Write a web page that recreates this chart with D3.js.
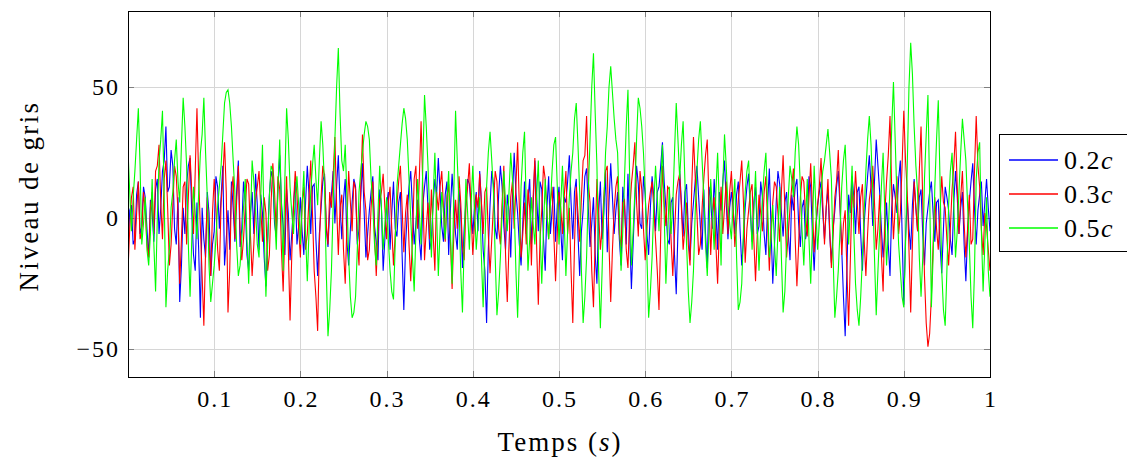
<!DOCTYPE html>
<html>
<head>
<meta charset="utf-8">
<script src="https://cdn.jsdelivr.net/npm/d3@7"></script>
<style>
  body { margin: 0; background: #fff; }
  svg text { font-family: "Liberation Serif", "DejaVu Serif", serif; fill: #000; }
</style>
</head>
<body>
<div id="chart"></div>
<script>
// sampling step of the signals (s)
const dt = 0.002;

const xTicks = [0.1, 0.2, 0.3, 0.4, 0.5, 0.6, 0.7, 0.8, 0.9, 1];
const yTicks = [-50, 0, 50];

const seriesNames = ["0.2", "0.3", "0.5"];
const seriesColors = ["#0000ff", "#ff0000", "#00ff00"];

// 0.2c  (one row = 0.1 s)
const blue = [
  -12,3, 5,-10, -8,9, 14,-6, -3,12, 8,-4, -15,7, 2,-9, 11,15, -6,4, 18,22, 35,10, 12,26, 20,-4, -10,8, -32,-18, 4,-6, 13,20, 23,2, -14,-20, 6,-12, -38,4, -8,-15, 10,2, -22,-10,
  -5,16, 12,-4, 8,20, -18,-8, 3,-12, 14,4, -9,10, 22,-11, -4,14, 6,-14, -20,2, 10,-6, 17,5, -12,9, 2,-15, -26,-8, 9,18, 15,-2, -7,12, 24,6, -3,-14, 11,2, -16,-6, 5,14, -10,-3,
  8,-5, -14,6, 20,9, -6,12, 13,-8, -22,-6, 4,14, 17,-4, -11,3, 9,18, -2,12, 24,5, -8,7, 15,-9, -18,-4, 6,15, 12,-10, -4,8, 21,2, -15,-6, 3,10, 16,-3, -9,-16, 11,4, -20,-8,
  5,10, -12,2, 14,-4, -7,6, 10,-14, -35,-10, 2,12, 18,4, -10,-2, 7,-8, -16,5, 12,18, 4,-12, -8,6, 15,9, 23,10, -3,-9, 9,14, -14,3, 17,6, -6,-12, 11,2, -19,-4, 6,15, 13,4,
  -6,4, 10,-5, 18,6, -12,-20, -40,-12, 5,18, 13,-4, -8,9, 20,12, -3,-12, 9,3, -15,8, 25,10, 2,-10, -18,-2, 14,-6, 7,15, -10,5, 22,9, -5,14, 11,-8, -20,4, 16,-6, 3,12, -9,5,
  12,-4, -16,8, 6,14, 24,6, -8,10, 15,-6, -22,-5, 3,16, 19,4, -11,-2, 8,-14, -25,2, 14,-8, 2,18, -13,6, 21,8, -6,3, 10,-8, -18,12, 5,-10, 17,-6, -27,-10, 7,20, 13,-2, -4,16,
  9,-6, -14,4, 16,8, -5,10, 12,20, 29,14, 4,-8, -10,6, 8,-14, -29,-5, 18,6, -7,10, 13,-4, -16,-2, 6,14, 20,8, -3,-12, 11,-6, -19,12, 7,-4, 15,3, -12,10, 3,14, 22,6, -8,4,
  10,4, -6,9, 14,-4, -18,-8, 4,12, 17,2, -9,6, 12,-6, -3,14, 8,-6, -14,5, 19,-4, -25,-10, 6,18, 13,2, -7,6, 10,-6, -16,9, 3,12, 15,-2, -11,4, 7,-8, -4,16, 12,-6, -20,-4,
  5,10, 14,2, -8,4, 11,-6, -17,-4, 3,12, 18,4, -12,-30, -45,-20, 9,2, 16,8, -6,10, 12,-6, -20,-2, 7,16, 24,12, -3,14, 30,20, 10,-4, -15,-6, 6,-10, -22,4, 13,8, 2,15, 22,-5,
  -33,-8, 8,-4, -12,5, 15,4, -5,8, 11,-6, -18,-2, 4,10, 14,2, -9,6, 7,-10, -21,-4, 12,8, 3,-8, -14,6, 18,8, -6,4, 10,-10, -24,-6, 6,14, 21,4, -10,3, 9,14, -3,6, 15,4,
  -5
];

// 0.3c
const red = [
  -20,-4, 8,12, -12,2, 14,-8, -5,10, 3,-10, -15,4, 10,-6, 18,20, 28,6, -8,15, 22,4, -18,-10, 5,20, 16,2, -25,-8, 12,14, -10,8, 24,10, -6,18, 42,15, -4,-22, -41,-12, 8,-10, -22,2,
  15,4, -12,-20, 6,15, 29,10, -36,-20, 10,16, -8,6, 20,-4, -16,-8, 4,15, 13,-6, -22,-10, 7,12, 18,4, -9,8, 2,-20, -14,6, 21,10, -6,16, 11,-12, -28,-4, 16,-12, -39,-14, 5,18, 9,-4,
  -15,6, 12,-12, -6,8, 22,2, -20,-30, -43,-10, 8,20, 16,-2, -10,10, 4,16, 31,5, -14,4, 9,-12, -25,-2, 18,6, -5,14, 11,-8, -18,12, 32,10, 3,-16, -12,4, 14,-6, -22,-5, 7,10, 17,4,
  -8,6, 12,-4, -18,-6, 5,14, 20,4, -13,2, 9,-10, -24,-8, 15,20, -4,16, 37,12, -16,-4, 6,-8, 11,-6, -20,10, 3,12, 18,4, -9,8, 13,-8, -27,-6, 7,-4, 16,6, -11,-16, 4,12, 21,2,
  -14,-2, 9,4, 17,6, -6,10, 12,-6, -21,-8, 5,18, 14,-4, -10,6, 20,-14, -32,-10, 8,14, -4,12, 29,4, -15,-6, 6,-10, 11,4, -18,8, 23,-10, -33,-8, 3,20, 15,2, -8,6, 12,-6, -24,-6,
  10,4, -6,8, 18,-6, 4,-20, -40,-10, 12,2, -9,8, 22,24, 39,14, 6,-20, -34,-8, 15,2, -12,-4, 8,18, 20,-10, -32,-12, 3,12, 16,-6, -11,6, 7,-12, -19,2, 13,20, 29,6, -7,18, 11,-4,
  -16,-4, 5,10, 14,4, -8,-20, -35,-6, 20,6, -3,12, 11,-8, -22,-6, 9,14, 17,4, -12,-4, 6,-10, -18,12, 31,16, 2,-14, -10,4, 15,24, 30,6, -14,2, 8,-10, -25,-4, 12,-6, 4,14, -6,10,
  18,4, -11,-2, 7,14, 22,6, -17,-4, 3,10, 13,-8, -24,-6, 9,2, -5,10, 16,-2, -20,-4, 6,14, 12,2, -9,10, 24,4, -15,-6, 4,12, 19,-8, -26,-10, 8,16, 14,2, -7,8, 21,4, -13,-2,
  5,12, 23,6, -10,4, 15,-4, -19,-6, 8,14, 26,6, -14,-2, 3,-20, -41,-16, 11,4, 18,6, -6,8, 13,-8, -22,-6, 7,12, 20,6, -12,-4, 9,-14, -28,2, 14,24, 39,10, -8,4, 16,-6, 2,20,
  41,22, 10,-12, -36,-10, 14,4, -5,18, 35,6, -22,-40, -49,-44, -30,-10, 8,-4, -12,2, 16,6, 4,-8, -18,-4, 11,20, 33,12, -6,8, 18,-2, -15,-4, 9,-10, -8,18, 39,20, 12,-4, -14,2, -3,-12,
  -20
];

// 0.5c
const green = [
  26,10, -5,8, 18,30, 42,20, -10,-2, 8,-12, -18,-6, 15,-10, -28,0, 22,30, 41,8, -34,-20, -12,4, 10,22, 30,14, 6,28, 46,35, 20,-10, -30,-8, 12,2, -8,10, 25,32, 46,25, 8,-18, -32,-25,
  -18,-8, 5,12, 20,32, 44,48, 49,44, 35,22, 10,-10, -22,-18, -8,4, 15,-8, -25,-2, 22,14, 3,-10, -15,8, 28,-5, -30,-10, 8,20, 18,2, -12,12, 30,5, -20,15, 42,30, 12,2, -6,8, 16,5,
  -10,5, 18,-6, -24,-5, 10,20, 28,15, 5,22, 37,28, 12,-20, -45,-35, -20,5, 30,50, 65,40, 22,18, 28,8, -15,-30, -38,-36, -30,-12, 10,18, 25,32, 37,35, 30,15, 5,-10, -18,2, 20,4, -12,-2,
  8,-8, -20,-28, -31,-10, 12,20, 28,36, 42,38, 30,15, 0,-15, -28,-5, 15,2, -10,20, 47,35, 20,2, -15,8, 25,2, -22,-5, 10,2, -8,6, 18,-5, -25,10, 41,22, 5,-20, -36,-10, 15,2, -12,5,
  20,4, -12,-2, 8,-15, -34,-10, 12,25, 33,22, 10,-15, -37,-28, -15,2, 18,6, -5,10, 25,15, 5,-20, -38,-15, 12,25, 33,5, -20,-8, 8,-2, -10,8, 22,-5, -25,-5, 15,2, -8,5, 18,28, 31,12,
  -10,5, 20,0, -22,-5, 8,18, 25,38, 44,28, 10,-20, -40,-30, -15,10, 30,50, 63,40, 20,-20, -42,-20, 5,25, 35,50, 58,48, 38,30, 25,2, -20,-5, 15,35, 49,15, -18,-5, 10,30, 46,42, 35,25,
  10,-15, -38,-28, -15,5, 20,8, -5,12, 28,2, -25,-8, 12,-6, 5,25, 44,30, 15,28, 37,15, -10,-28, -40,-32, -20,2, 18,30, 37,22, 8,-10, -22,-5, 15,2, -12,10, 25,5, -18,12, 32,20, 5,-2,
  -8,5, 15,-15, -35,-32, -25,-5, 10,18, 22,5, -12,2, 18,-2, -20,-5, 8,18, 25,5, -15,-8, 5,-10, -22,-5, 12,-15, -36,-28, -10,8, 20,15, 8,25, 35,28, 12,-5, -18,-2, 15,-8, -25,-5, 20,4,
  -12,-2, 10,18, 22,28, 34,25, 15,-15, -38,-30, -20,-5, 12,22, 28,10, -10,5, 20,-5, -25,-35, -41,-30, -15,2, 18,30, 39,28, 10,-15, -37,-20, -5,12, 25,2, -18,-5, 12,35, 52,30, 8,-10, -20,-30,
  -34,-10, 20,50, 67,55, 35,20, 10,-15, -30,-15, 15,32, 47,10, -34,-15, 12,30, 45,15, -20,-35, -41,-20, 5,18, 25,5, -15,-5, 10,25, 38,30, 22,5, -10,-30, -42,-20, 15,25, 29,-5, -28,-10, 8,-20,
  -30
];

const allSeries = [blue, red, green];

const W = 1127, H = 464;
const margin = { top: 11, left: 128 };
const width = 862;
const height = 366;

const svg = d3.select('#chart').append('svg')
    .attr('width', W)
    .attr('height', H);

const g = svg.append('g')
    .attr('transform', `translate(${margin.left},${margin.top})`);

const x = d3.scaleLinear().domain([0, 1]).range([0, width]);
const y = d3.scaleLinear().domain([-60.6, 79.1]).range([height, 0]);

svg.append('clipPath').attr('id', 'clip')
  .append('rect').attr('width', width).attr('height', height);

// grid
g.append('g')
  .selectAll('line')
  .data(xTicks)
  .enter().append('line')
    .attr('x1', d => Math.round(x(d)) + 0.5).attr('x2', d => Math.round(x(d)) + 0.5)
    .attr('y1', 0).attr('y2', height)
    .attr('stroke', '#d6d6d6');

g.append('g')
  .selectAll('line')
  .data(yTicks)
  .enter().append('line')
    .attr('y1', d => Math.round(y(d)) + 0.5).attr('y2', d => Math.round(y(d)) + 0.5)
    .attr('x1', 0).attr('x2', width)
    .attr('stroke', '#d6d6d6');

// inward tick marks on all four sides
const tk = 6;
const ticks = g.append('g').attr('stroke', '#7f7f7f');
xTicks.forEach(d => {
    const px = Math.round(x(d)) + 0.5;
    ticks.append('line').attr('x1', px).attr('x2', px).attr('y1', height).attr('y2', height - tk);
    ticks.append('line').attr('x1', px).attr('x2', px).attr('y1', 0).attr('y2', tk);
});
yTicks.forEach(d => {
    const py = Math.round(y(d)) + 0.5;
    ticks.append('line').attr('y1', py).attr('y2', py).attr('x1', 0).attr('x2', tk);
    ticks.append('line').attr('y1', py).attr('y2', py).attr('x1', width).attr('x2', width - tk);
});

// signals
const line = d3.line()
    .x((d, i) => x(i * dt))
    .y(d => y(d));

g.append('g').attr('clip-path', 'url(#clip)')
  .selectAll('path')
  .data(allSeries)
  .enter().append('path')
    .attr('d', d => line(d))
    .attr('fill', 'none')
    .attr('stroke', (d, i) => seriesColors[i])
    .attr('stroke-width', 1.1);

// frame
g.append('rect')
  .attr('x', 0.5).attr('y', 0.5)
  .attr('width', width).attr('height', height)
  .attr('fill', 'none').attr('stroke', '#000').attr('stroke-width', 1);

// tick labels
g.selectAll('.xlab')
  .data(xTicks)
  .enter().append('text')
    .attr('class', 'xlab')
    .attr('x', d => x(d) + 1)
    .attr('y', 407 - margin.top)
    .attr('text-anchor', 'middle')
    .style('font-size', '24px')
    .style('letter-spacing', '2px')
    .text(d => d === 1 ? '1' : d3.format('.1f')(d));

g.selectAll('.ylab')
  .data(yTicks)
  .enter().append('text')
    .attr('class', 'ylab')
    .attr('x', -8)
    .attr('y', d => y(d) + 8)
    .attr('text-anchor', 'end')
    .style('font-size', '24px')
    .style('letter-spacing', '2px')
    .text(d => d < 0 ? '\u2212' + Math.abs(d) : d);

// axis titles
const xt = svg.append('text')
    .attr('x', margin.left + width / 2 + 1)
    .attr('y', 451)
    .attr('text-anchor', 'middle')
    .style('font-size', '27px')
    .style('letter-spacing', '2px');
xt.append('tspan').text('Temps (');
xt.append('tspan').style('font-style', 'italic').text('s');
xt.append('tspan').text(')');

svg.append('text')
    .attr('transform', `translate(38,${margin.top + height / 2 + 2}) rotate(-90)`)
    .attr('text-anchor', 'middle')
    .style('font-size', '27px')
    .style('letter-spacing', '2.4px')
    .text('Niveau de gris');

// legend
const lg = svg.append('g').attr('transform', 'translate(999,134)');
lg.append('rect')
  .attr('x', 0.5).attr('y', 0.5)
  .attr('width', 140).attr('height', 117)
  .attr('fill', '#fff').attr('stroke', '#000');

seriesNames.forEach((name, i) => {
    const ry = 26 + i * 34;
    lg.append('line')
      .attr('x1', 10).attr('x2', 59)
      .attr('y1', ry).attr('y2', ry)
      .attr('stroke', seriesColors[i]).attr('stroke-width', 1.4);
    const t = lg.append('text')
      .attr('x', 65).attr('y', ry + 9)
      .style('font-size', '26px')
      .style('letter-spacing', '1.5px');
    t.append('tspan').text(name);
    t.append('tspan').style('font-style', 'italic').text('c');
});
</script>
</body>
</html>
